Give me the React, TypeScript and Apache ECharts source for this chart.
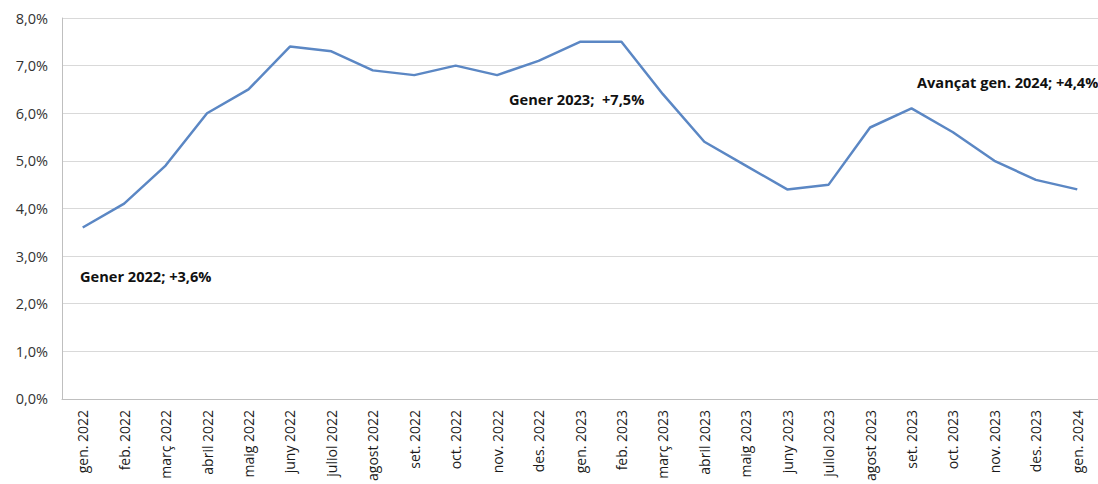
import React, { useEffect, useRef } from "react";
import * as echarts from "echarts";

const categories = [
  "gen. 2022", "feb. 2022", "març 2022", "abril 2022", "maig 2022", "juny 2022",
  "juliol 2022", "agost 2022", "set. 2022", "oct. 2022", "nov. 2022", "des. 2022",
  "gen. 2023", "feb. 2023", "març 2023", "abril 2023", "maig 2023", "juny 2023",
  "juliol 2023", "agost 2023", "set. 2023", "oct. 2023", "nov. 2023", "des. 2023",
  "gen. 2024",
];

const values = [
  3.6, 4.1, 4.9, 6.0, 6.5, 7.4, 7.3, 6.9, 6.8, 7.0, 6.8, 7.1,
  7.5, 7.5, 6.4, 5.4, 4.9, 4.4, 4.5, 5.7, 6.1, 5.6, 5.0, 4.6, 4.4,
];

const annotations = [
  { text: "Gener 2022; +3,6%", x: 80, y: 278 },
  { text: "Gener 2023;  +7,5%", x: 509, y: 101 },
  { text: "Avançat gen. 2024; +4,4%", x: 917, y: 84 },
];

const FONT = "'Open Sans', 'Noto Sans', sans-serif";

export default function App() {
  const ref = useRef<HTMLDivElement>(null);
  useEffect(() => {
    document.body.style.margin = "0";
    const chart = echarts.init(ref.current!, null, { renderer: "svg" });
    chart.setOption({
      animation: false,
      backgroundColor: "#ffffff",
      grid: { left: 62, top: 18, width: 1047, height: 382, containLabel: false },
      xAxis: {
        type: "category",
        data: categories,
        boundaryGap: true,
        axisLine: { show: true, lineStyle: { color: "#bfbfbf", width: 1 } },
        axisTick: { show: false },
        axisLabel: {
          rotate: 90,
          interval: 0,
          margin: 11,
          color: "#1a1a1a",
          fontSize: 14,
          fontFamily: FONT,
        },
        splitLine: { show: false },
      },
      yAxis: {
        type: "value",
        min: 0,
        max: 8,
        interval: 1,
        axisLine: { show: true, lineStyle: { color: "#bfbfbf", width: 1 } },
        axisTick: { show: false },
        axisLabel: {
          margin: 14,
          color: "#333333",
          fontSize: 14.5,
          fontFamily: FONT,
          formatter: (v: number) => v.toFixed(1).replace(".", ",") + "%",
        },
        splitLine: { show: true, lineStyle: { color: "#d9d9d9", width: 1 } },
      },
      series: [
        {
          type: "line",
          data: values,
          symbol: "none",
          lineStyle: { color: "#5b87c4", width: 2.5 },
          itemStyle: { color: "#5b87c4" },
        },
      ],
      graphic: annotations.map((a) => ({
        type: "text",
        left: a.x,
        top: a.y - 10,
        style: {
          text: a.text,
          fill: "#111111",
          font: `bold 14.6px ${FONT}`,
        },
      })),
    });
    return () => chart.dispose();
  }, []);
  return <div ref={ref} style={{ width: 1098, height: 484 }} />;
}
